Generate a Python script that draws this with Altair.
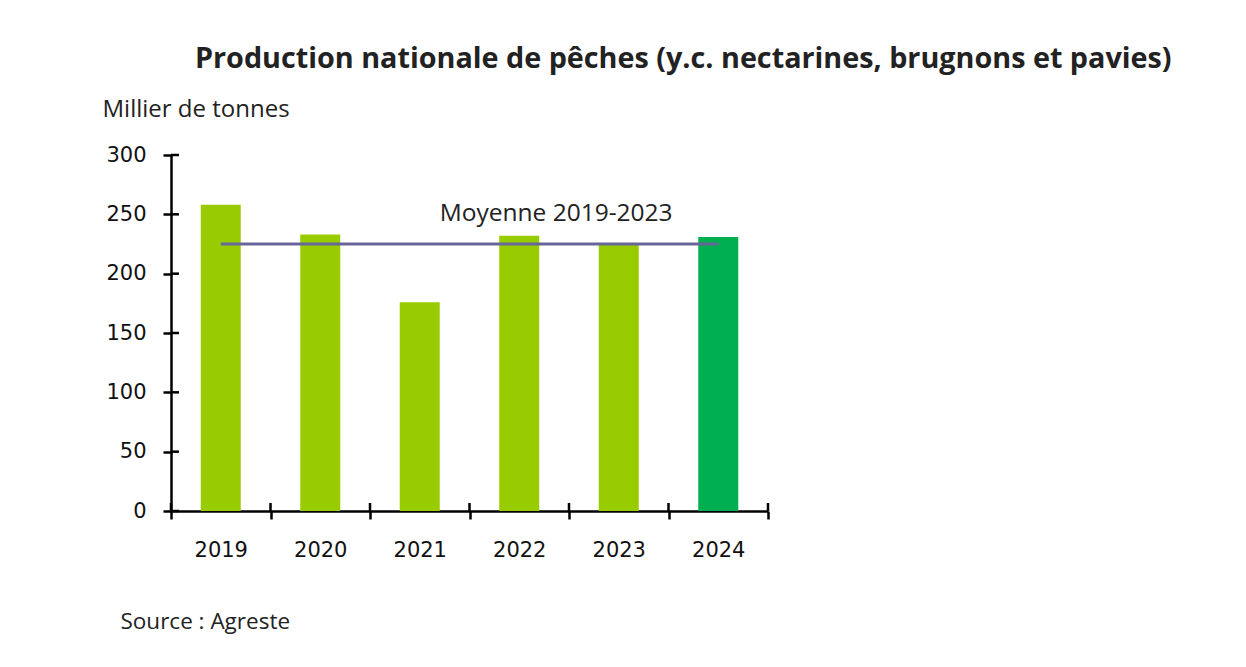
import altair as alt
import pandas as pd

years = [2019, 2020, 2021, 2022, 2023, 2024]
production = [258, 233, 176, 232, 225, 231]
periods = ["2019-2023", "2019-2023", "2019-2023", "2019-2023", "2019-2023", "2024"]
mean_label = ["Moyenne 2019-2023"]
mean_value = [225]
mean_from = [2019]
mean_to = [2024]
label_x = [2021.2]
y_ticks = [0, 50, 100, 150, 200, 250, 300]
x_edges = [2018.5, 2019.5, 2020.5, 2021.5, 2022.5, 2023.5, 2024.5]

W, H = 597, 356
FONT = "DejaVu Sans"
TFONT = "Open Sans"

df = pd.DataFrame({"year": years, "value": production, "period": periods})
mean_df = pd.DataFrame({"x": mean_from, "x2": mean_to, "y": mean_value,
                        "lx": label_x, "label": mean_label})
yt_df = pd.DataFrame({"v": y_ticks})
xt_df = pd.DataFrame({"v": x_edges})

all_x = sorted(x_edges + years)

xscale = alt.Scale(domain=[x_edges[0], x_edges[-1]], nice=False, zero=False, padding=0)
yscale = alt.Scale(domain=[0, 300], nice=False, padding=0)

x_axis = alt.Axis(
    values=all_x,
    labelExpr="datum.value % 1 == 0 ? '' + datum.value : ''",
    tickOpacity={"condition": {"test": "datum.value % 1 == 0", "value": 0}, "value": 1},
    tickSize=8, tickWidth=2.5, tickColor="black",
    domainColor="black", domainWidth=2.5,
    labelFont=FONT, labelFontSize=21, labelColor="#111111", labelPadding=20,
    labelAngle=0, grid=False,
    title="Source : Agreste", titleFont=TFONT, titleFontSize=22.5, titleFontWeight="normal",
    titleColor="#222222", titleAnchor="start", titleAlign="left", titleX=-51, titleY=110,
    titleBaseline="middle",
)
y_axis = alt.Axis(
    values=y_ticks, tickSize=8, tickWidth=2.5, tickColor="black",
    domainColor="black", domainWidth=2.5,
    labelFont=FONT, labelFontSize=21, labelColor="#111111", labelPadding=17,
    grid=False,
    title="Millier de tonnes", titleFont=TFONT, titleFontSize=24, titleFontWeight="normal",
    titleColor="#222222", titleAngle=0, titleAlign="left", titleBaseline="middle",
    titleX=-69, titleY=-46,
)

bars = alt.Chart(df).mark_bar(size=40).encode(
    x=alt.X("year:Q", scale=xscale, axis=x_axis),
    y=alt.Y("value:Q", scale=yscale, axis=y_axis),
    color=alt.Color("period:N", scale=alt.Scale(domain=["2019-2023", "2024"],
                                                 range=["#99cc00", "#00b050"]), legend=None),
)

mean_rule = alt.Chart(mean_df).mark_rule(color="#66669a", strokeWidth=3).encode(
    x="x:Q", x2="x2:Q", y="y:Q"
)
mean_text = alt.Chart(mean_df).mark_text(
    font=TFONT, fontSize=24.5, align="left", baseline="middle", dy=-30, color="#222222"
).encode(x="lx:Q", y="y:Q", text="label:N")

ytick_in = alt.Chart(yt_df).mark_rule(color="black", strokeWidth=2.5).encode(
    x=alt.value(0), x2=alt.value(8), y=alt.Y("v:Q")
)
xtick_in = alt.Chart(xt_df).mark_rule(color="black", strokeWidth=2.5).encode(
    x=alt.X("v:Q"), y=alt.value(H), y2=alt.value(H - 8)
)

chart = alt.layer(bars, mean_rule, mean_text, ytick_in, xtick_in).properties(
    width=W, height=H,
    background="white",
    padding={"left": 94, "top": 37, "right": 5, "bottom": 5},
    title=alt.TitleParams(
        "Production nationale de pêches (y.c. nectarines, brugnons et pavies)",
        font=TFONT, fontSize=28.75, fontWeight="bold", color="#222222",
        anchor="start", frame="group", dx=24, offset=23,
    ),
).configure_view(stroke=None, strokeWidth=0)

chart.save("out.html", embed_options={"renderer": "svg", "actions": False})
